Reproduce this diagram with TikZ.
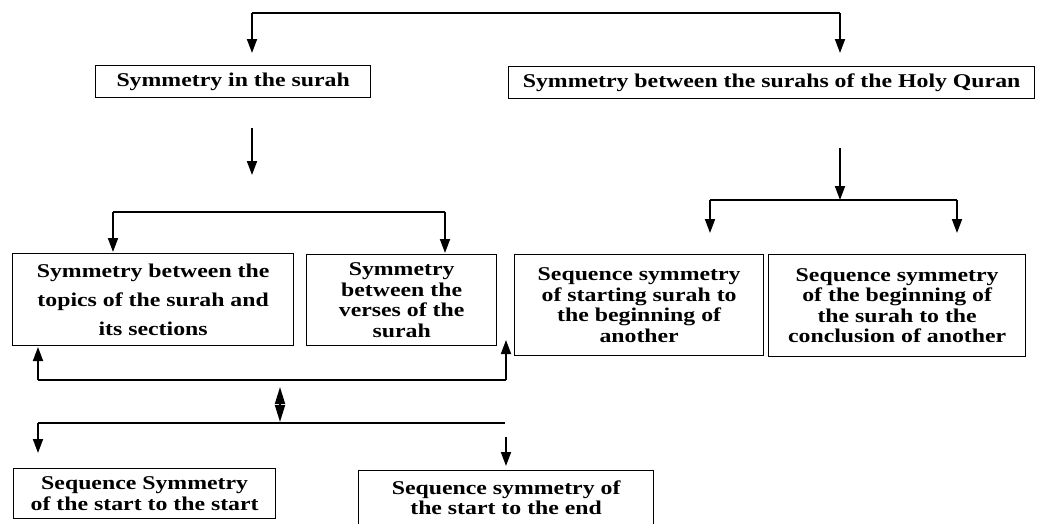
\documentclass[tikz,border=0pt]{standalone}
\usepackage{fontspec}
\setmainfont{Liberation Serif}[FakeStretch=1.22]
\usetikzlibrary{arrows.meta}
\begin{document}
\begin{tikzpicture}[x=1pt,y=-1pt,
  box/.style={draw, line width=1.3pt, inner sep=0pt, align=center, anchor=north west,
    font=\fontsize{19.5}{20.5}\selectfont\bfseries},
  conn/.style={line width=2pt},
  arr/.style={line width=1.8pt, -{Triangle[length=14pt,width=10pt]}},
  darr/.style={line width=1.8pt, {Triangle[length=17pt,width=10pt]}-{Triangle[length=17pt,width=10pt]}},
]
\clip (0,0) rectangle (1037,523);
\fill[white] (0,0) rectangle (1037,523);

% boxes
\node[box, minimum width=275pt, minimum height=32pt] (A) at (95,65) {Symmetry in the surah};
\node[box, minimum width=526pt, minimum height=32pt] (B) at (508,66) {Symmetry between the surahs of the Holy Quran};
\node[box, minimum width=281pt, minimum height=92pt,
  font=\fontsize{19.5}{29}\selectfont\bfseries] (E) at (12,253)
  {Symmetry between the\\topics of the surah and\\its sections};
\node[box, minimum width=190pt, minimum height=91pt] (F) at (306,254)
  {Symmetry\\between the\\verses of the\\surah};
\node[box, minimum width=249pt, minimum height=101pt] (C) at (514,254)
  {Sequence symmetry\\of starting surah to\\the beginning of\\another};
\node[box, minimum width=257pt, minimum height=102pt] (D) at (768,254)
  {Sequence symmetry\\of the beginning of\\the surah to the\\conclusion of another};
\node[box, minimum width=262pt, minimum height=50pt] (G) at (13,468)
  {Sequence Symmetry\\of the start to the start};
\node[box, minimum width=295pt, minimum height=54.5pt] (H) at (358,470)
  {Sequence symmetry of\\the start to the end};

% coordinates
\coordinate (t1) at (252,13);
\coordinate (t2) at (840,13);
\coordinate (a1) at (252,53);
\coordinate (b1) at (840,53);
\coordinate (s1) at (252,128);
\coordinate (s2) at (252,175);
\coordinate (r1) at (840,148);
\coordinate (r2) at (840,200);
\coordinate (rl) at (710,200);
\coordinate (rr) at (957,200);
\coordinate (rla) at (710,233);
\coordinate (rra) at (957,233);
\coordinate (ml) at (113,212);
\coordinate (mr) at (445,212);
\coordinate (mla) at (113,252);
\coordinate (mra) at (445,253);
\coordinate (bl) at (38,380);
\coordinate (br) at (506,380);
\coordinate (bla) at (38,347);
\coordinate (bra) at (506,340);
\coordinate (d1) at (280,387);
\coordinate (d2) at (280,422);
\coordinate (ll) at (38,423);
\coordinate (lr) at (505,423);
\coordinate (lla) at (38,453);
\coordinate (x1) at (506,437);
\coordinate (x2) at (506,466);

% connectors
\draw[conn] (t1) -- (t2);
\draw[arr] (t1) -- (a1);
\draw[arr] (t2) -- (b1);
\draw[arr] (s1) -- (s2);
\draw[arr] (r1) -- (r2);
\draw[conn] (rl) -- (rr);
\draw[arr] (rl) -- (rla);
\draw[arr] (rr) -- (rra);
\draw[conn] (ml) -- (mr);
\draw[arr] (ml) -- (mla);
\draw[arr] (mr) -- (mra);
\draw[conn] (bl) -- (br);
\draw[arr] (bl) -- (bla);
\draw[arr] (br) -- (bra);
\draw[darr] (d1) -- (d2);
\draw[conn] (ll) -- (lr);
\draw[arr] (ll) -- (lla);
\draw[arr] (x1) -- (x2);
\end{tikzpicture}
\end{document}
